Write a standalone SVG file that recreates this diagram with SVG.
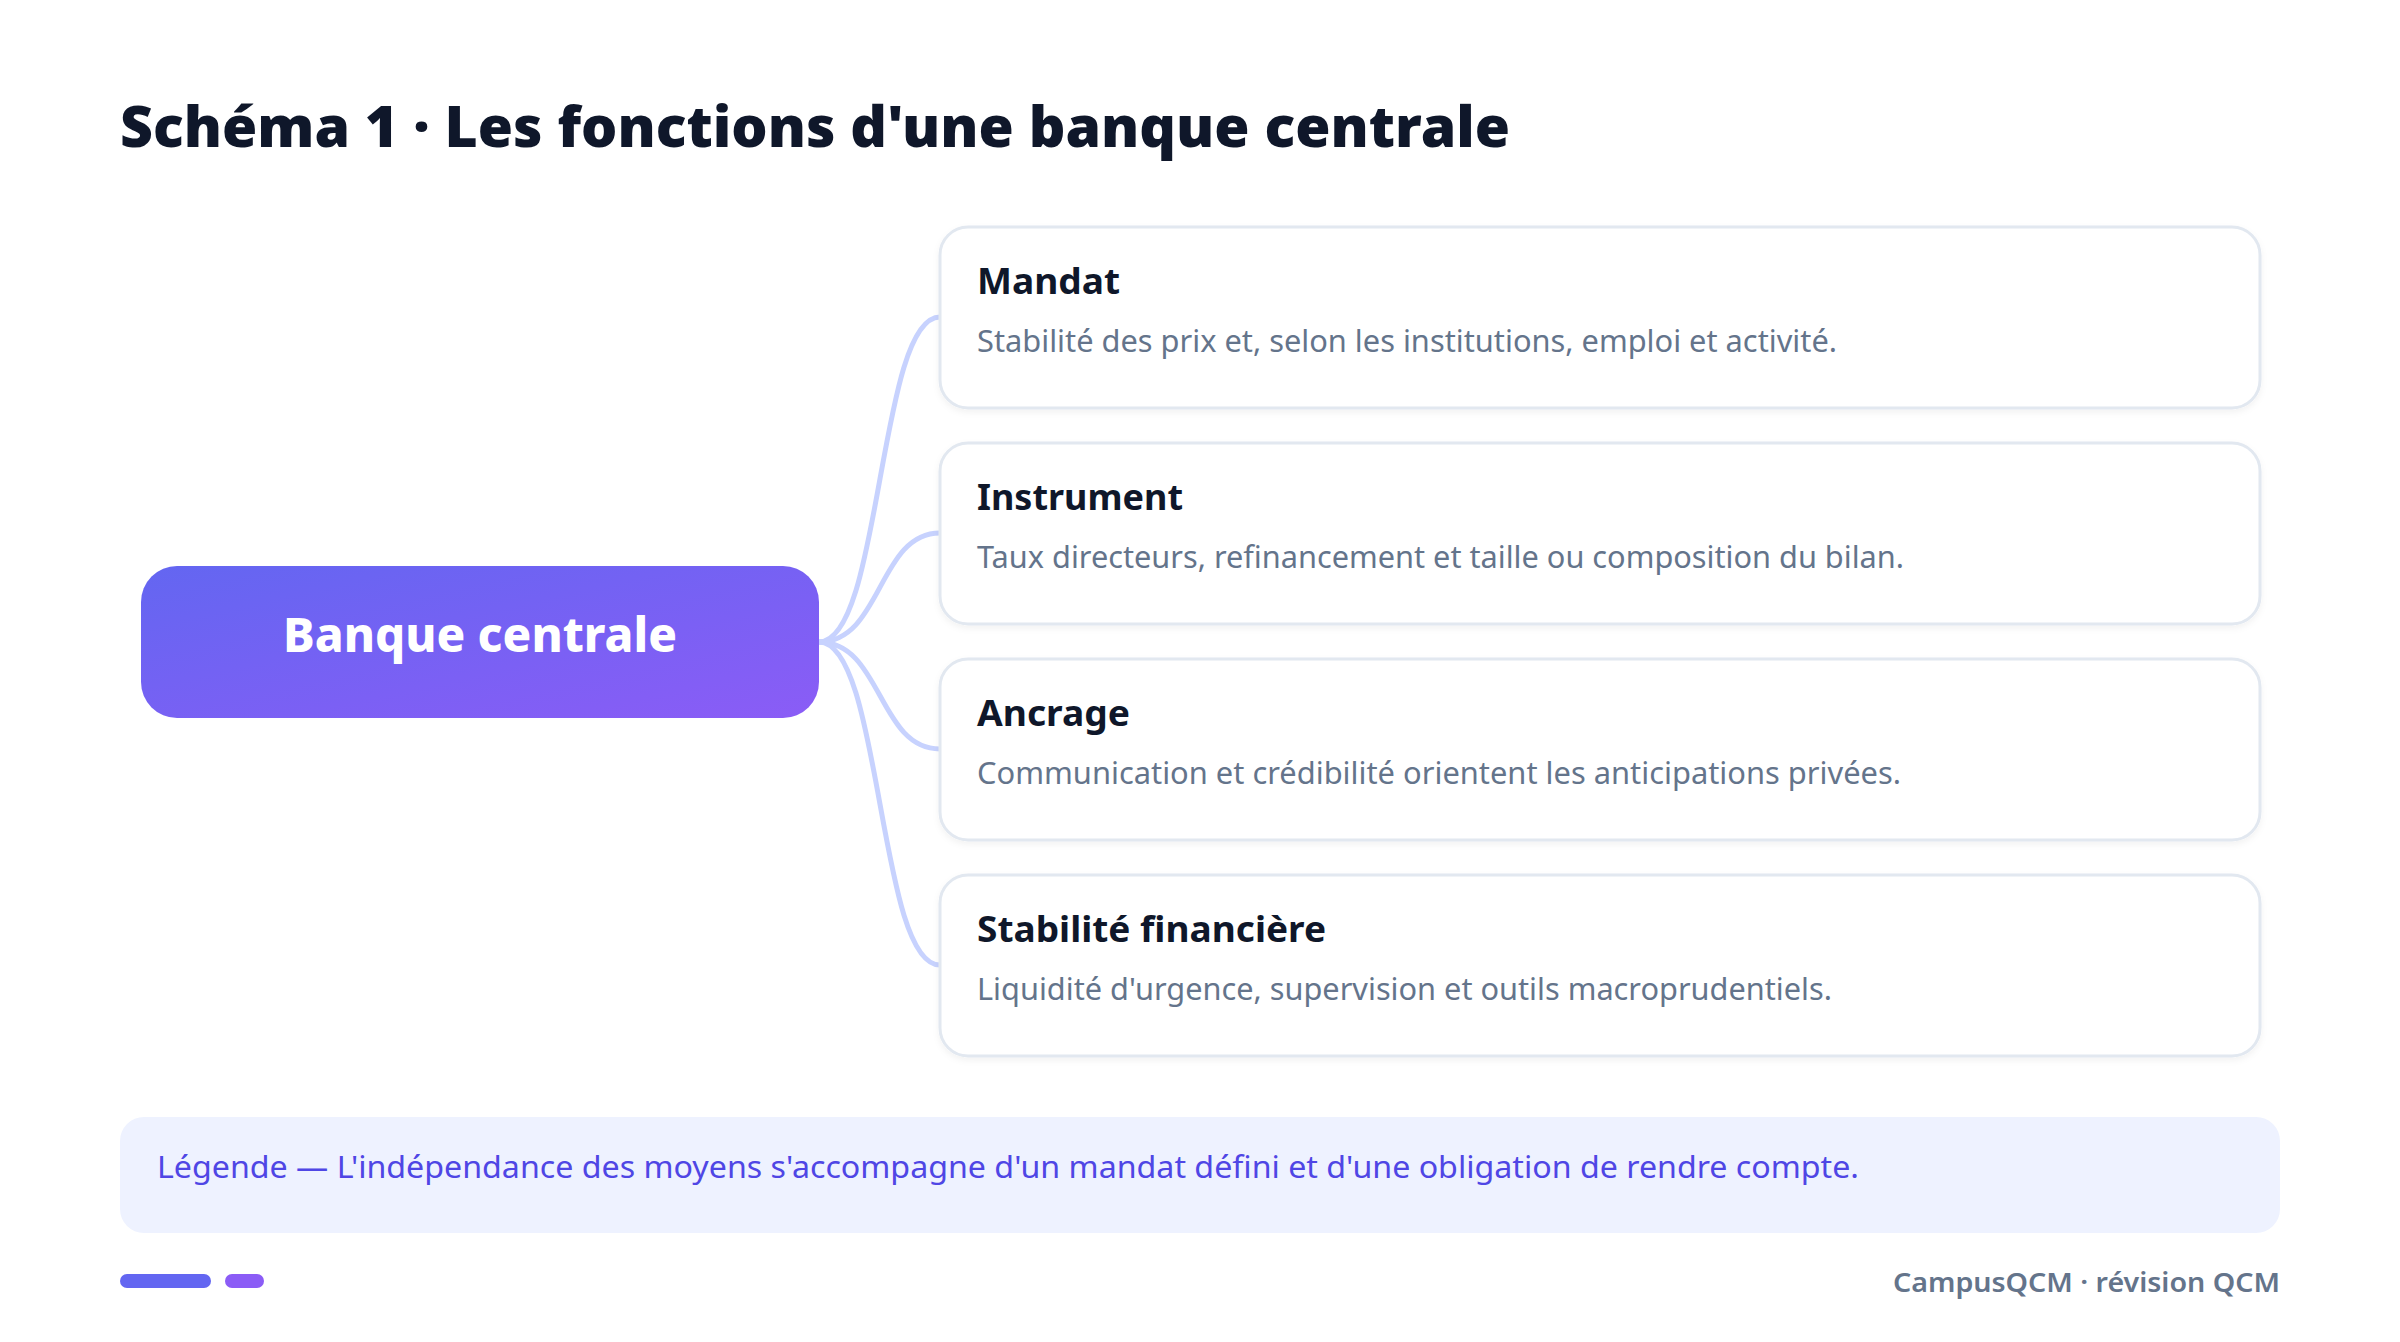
<svg xmlns="http://www.w3.org/2000/svg" width="2400" height="1342" viewBox="0 0 2400 1342">
  <defs>
    <linearGradient id="gCenter" x1="0" y1="0" x2="1" y2="1">
      <stop offset="0" stop-color="#6366f1"/>
      <stop offset="1" stop-color="#8b5cf6"/>
    </linearGradient>
    <filter id="cardShadow" x="-5%" y="-10%" width="110%" height="125%">
      <feDropShadow dx="0" dy="3" stdDeviation="3" flood-color="#0f172a" flood-opacity="0.05"/>
    </filter>
  </defs>
  <style>
    .title { font-family: "Noto Sans", "Open Sans", sans-serif; font-weight: 900; font-size: 56px; fill: #0f172a; }
    .center-label { font-family: "Noto Sans", "Open Sans", sans-serif; font-weight: 800; font-size: 48px; fill: #ffffff; }
    .card { fill: #ffffff; stroke: #e2e8f0; stroke-width: 3; }
    .card-title { font-family: "Noto Sans", "Open Sans", sans-serif; font-weight: 700; font-size: 36px; fill: #0f172a; }
    .card-desc { font-family: "Noto Sans", "Open Sans", sans-serif; font-weight: 400; font-size: 30px; fill: #64748b; }
    .conn { fill: none; stroke: #c7d2fe; stroke-width: 5; stroke-linecap: round; }
    .legend-box { fill: #eef2ff; }
    .legend-text { font-family: "Noto Sans", "Open Sans", sans-serif; font-weight: 400; font-size: 31px; fill: #4f46e5; }
    .footer { font-family: "Noto Sans", "Open Sans", sans-serif; font-weight: 600; font-size: 27px; fill: #64748b; }
  </style>

  <rect x="0" y="0" width="2400" height="1342" fill="#ffffff"/>

  <text class="title" x="120" y="147" textLength="1390" lengthAdjust="spacingAndGlyphs">Schéma 1 · Les fonctions d'une banque centrale</text>

  <g id="connectors">
    <path class="conn" d="M819,642 C882,642 878,317 940,317"/>
    <path class="conn" d="M819,642 C882,642 878,533 940,533"/>
    <path class="conn" d="M819,642 C882,642 878,749 940,749"/>
    <path class="conn" d="M819,642 C882,642 878,965 940,965"/>
  </g>

  <g id="node-center">
    <rect x="141" y="566" width="678" height="152" rx="36" fill="url(#gCenter)"/>
    <text class="center-label" x="480" y="652" text-anchor="middle" textLength="394" lengthAdjust="spacingAndGlyphs">Banque centrale</text>
  </g>

  <g id="node-mandat">
    <rect class="card" x="940" y="227" width="1320" height="181" rx="28" filter="url(#cardShadow)"/>
    <text class="card-title" x="977" y="294" textLength="143" lengthAdjust="spacingAndGlyphs">Mandat</text>
    <text class="card-desc" x="977" y="352" textLength="860" lengthAdjust="spacingAndGlyphs">Stabilité des prix et, selon les institutions, emploi et activité.</text>
  </g>

  <g id="node-instrument">
    <rect class="card" x="940" y="443" width="1320" height="181" rx="28" filter="url(#cardShadow)"/>
    <text class="card-title" x="977" y="510" textLength="206" lengthAdjust="spacingAndGlyphs">Instrument</text>
    <text class="card-desc" x="977" y="568" textLength="927" lengthAdjust="spacingAndGlyphs">Taux directeurs, refinancement et taille ou composition du bilan.</text>
  </g>

  <g id="node-ancrage">
    <rect class="card" x="940" y="659" width="1320" height="181" rx="28" filter="url(#cardShadow)"/>
    <text class="card-title" x="977" y="726" textLength="153" lengthAdjust="spacingAndGlyphs">Ancrage</text>
    <text class="card-desc" x="977" y="784" textLength="924" lengthAdjust="spacingAndGlyphs">Communication et crédibilité orientent les anticipations privées.</text>
  </g>

  <g id="node-stabilite">
    <rect class="card" x="940" y="875" width="1320" height="181" rx="28" filter="url(#cardShadow)"/>
    <text class="card-title" x="977" y="942" textLength="349" lengthAdjust="spacingAndGlyphs">Stabilité financière</text>
    <text class="card-desc" x="977" y="1000" textLength="855" lengthAdjust="spacingAndGlyphs">Liquidité d'urgence, supervision et outils macroprudentiels.</text>
  </g>

  <g id="legend">
    <rect class="legend-box" x="120" y="1117" width="2160" height="116" rx="24"/>
    <text class="legend-text" x="157" y="1178" textLength="1702" lengthAdjust="spacingAndGlyphs">Légende — L'indépendance des moyens s'accompagne d'un mandat défini et d'une obligation de rendre compte.</text>
  </g>

  <g id="footer">
    <rect x="120" y="1274" width="91" height="14" rx="7" fill="#6366f1"/>
    <rect x="225" y="1274" width="39" height="14" rx="7" fill="#8b5cf6"/>
    <text class="footer" x="2280" y="1292" text-anchor="end" textLength="387" lengthAdjust="spacingAndGlyphs">CampusQCM · révision QCM</text>
  </g>
</svg>
